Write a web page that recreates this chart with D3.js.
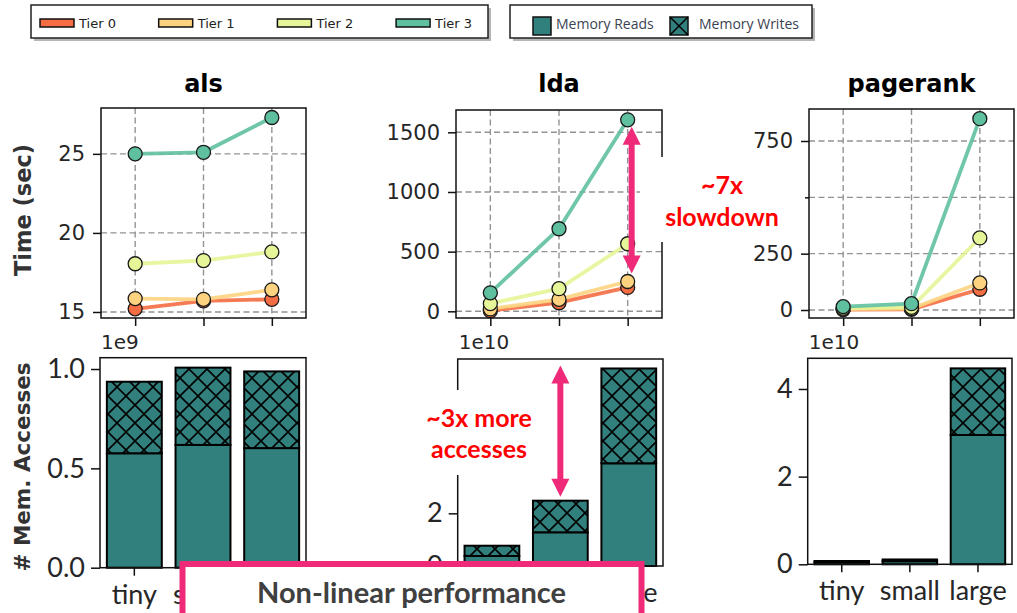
<!DOCTYPE html>
<html><head><meta charset="utf-8">
<script src="https://cdn.jsdelivr.net/npm/d3@7"></script>
<style>body{margin:0;background:#fff}</style>
</head><body>
<svg id="c" width="1017" height="613"></svg>
<script>
// ---------- data ----------
const sizes = ["tiny", "small", "large"];
const tiers = ["Tier 0", "Tier 1", "Tier 2", "Tier 3"];
const tierColors = ["#f46d43", "#fdd380", "#e6f598", "#5fc0a0"];
const barColor = "#31807d";

// time (sec), rows = tiers, cols = sizes
const alsTime = [[15.2, 15.7, 15.8], [15.85, 15.8, 16.4], [18.05, 18.25, 18.8], [25.0, 25.1, 27.3]];
const ldaTime = [[5, 72, 200], [20, 100, 250], [65, 190, 566], [155, 692, 1605]];
const pagerankTime = [[2, 3, 92], [4, 6, 120], [8, 12, 320], [15, 28, 849]];

// memory accesses (in units of the offset)
const alsReads = [0.576, 0.618, 0.602];
const alsWrites = [0.360, 0.389, 0.386];
const ldaReads = [0.38, 1.28, 3.90];
const ldaWrites = [0.39, 1.20, 3.60];
const pagerankReads = [0.05, 0.07, 2.95];
const pagerankWrites = [0.025, 0.04, 1.52];

const alsTimeTicks = [15, 20, 25];
const ldaTimeTicks = [0, 500, 1000, 1500];
const pagerankTimeTicks = [0, 250, 500, 750];
const alsMemTicks = [0, 0.5, 1.0];
const ldaMemTicks = [0, 2, 4, 6];
const pagerankMemTicks = [0, 2, 4];
const memLegend = ["Memory Reads", "Memory Writes"];

// ---------- setup ----------
const svg = d3.select("#c");
const defs = svg.append("defs");
const pat = defs.append("pattern").attr("id", "hatch")
  .attr("patternUnits", "userSpaceOnUse").attr("width", 18).attr("height", 18);
pat.append("rect").attr("width", 18).attr("height", 18).attr("fill", barColor);
pat.append("path").attr("d", "M0,0L18,18M18,0L0,18M-2,16L2,20M16,-2L20,2M-2,2L2,-2M16,20L20,16")
  .attr("stroke", "#000").attr("stroke-width", 1.6);

const DV = "DejaVu Sans";
const HUM = "Lato";

function styleAxis(a, font, size) {
  a.select(".domain").remove();
  a.selectAll("line").attr("stroke", "#111").attr("stroke-width", 1.5);
  a.selectAll("text").attr("font-family", font).attr("font-size", size).attr("fill", "#262626");
}

function drawTop(p) {
  const g = svg.append("g");
  const x = d3.scaleLinear().domain([-0.5, 2.5]).range([p.x0, p.x1]);
  const y = d3.scaleLinear().domain(p.yd).range([p.yb, p.yt]);
  const grid = sel => sel.attr("stroke", "#939393").attr("stroke-width", 1.4).attr("stroke-dasharray", "6,3.5");
  g.selectAll(".vg").data(sizes).join("line").attr("class", "vg")
    .attr("x1", (d, i) => x(i)).attr("x2", (d, i) => x(i)).attr("y1", p.yt).attr("y2", p.yb).call(grid);
  g.selectAll(".hg").data(p.ticks).join("line").attr("class", "hg")
    .attr("x1", p.x0).attr("x2", p.x1).attr("y1", d => y(d)).attr("y2", d => y(d)).call(grid);
  const ay = g.append("g").attr("transform", `translate(${p.x0},0)`)
    .call(d3.axisLeft(y).tickValues(p.ticks).tickSize(8).tickPadding(8).tickFormat(d3.format("d")));
  styleAxis(ay, DV, 21);
  const ax = g.append("g").attr("transform", `translate(0,${p.yb})`)
    .call(d3.axisBottom(x).tickValues([0, 1, 2]).tickSize(8).tickFormat(""));
  styleAxis(ax, DV, 21);
  const line = d3.line().x((d, i) => x(i)).y(d => y(d));
  p.data.forEach((vals, t) => {
    g.append("path").datum(vals).attr("d", line).attr("fill", "none")
      .attr("stroke", tierColors[t]).attr("stroke-width", 3.8).attr("opacity", 0.9);
    g.selectAll(".m" + t).data(vals).join("circle").attr("class", "m" + t)
      .attr("cx", (d, i) => x(i)).attr("cy", d => y(d)).attr("r", 7)
      .attr("fill", tierColors[t]).attr("stroke", "#1a1a1a").attr("stroke-width", 1.3);
  });
  g.append("rect").attr("x", p.x0).attr("y", p.yt).attr("width", p.x1 - p.x0).attr("height", p.yb - p.yt)
    .attr("fill", "none").attr("stroke", "#111").attr("stroke-width", 1.5);
  g.append("text").attr("x", (p.x0 + p.x1) / 2).attr("y", 92).attr("text-anchor", "middle")
    .attr("font-family", DV).attr("font-weight", "bold").attr("font-size", 24).attr("fill", "#000").text(p.title);
  return { x, y };
}

function drawBottom(p) {
  const g = svg.append("g");
  const x = d3.scaleBand().domain(sizes).range([p.x0, p.x1]).paddingInner(0.2).paddingOuter(0.1);
  const y = d3.scaleLinear().domain(p.yd).range([p.yb, p.yt]);
  g.selectAll(".rd").data(p.reads).join("rect").attr("class", "rd")
    .attr("x", (d, i) => x(sizes[i])).attr("width", x.bandwidth())
    .attr("y", d => y(d)).attr("height", d => p.yb - y(d))
    .attr("fill", barColor).attr("stroke", "#000").attr("stroke-width", 2);
  g.selectAll(".wr").data(p.writes).join("rect").attr("class", "wr")
    .attr("x", (d, i) => x(sizes[i])).attr("width", x.bandwidth())
    .attr("y", (d, i) => y(p.reads[i] + d)).attr("height", (d, i) => y(p.reads[i]) - y(p.reads[i] + d))
    .attr("fill", "url(#hatch)").attr("stroke", "#000").attr("stroke-width", 2);
  const ay = g.append("g").attr("transform", `translate(${p.x0},0)`)
    .call(d3.axisLeft(y).tickValues(p.ticks).tickSize(9).tickPadding(6).tickFormat(d3.format(p.fmt)));
  styleAxis(ay, HUM, 27);
  const ax = g.append("g").attr("transform", `translate(0,${p.yb})`)
    .call(d3.axisBottom(x).tickSize(8).tickPadding(9));
  styleAxis(ax, HUM, 27);
  g.append("rect").attr("x", p.x0).attr("y", p.yt).attr("width", p.x1 - p.x0).attr("height", p.yb - p.yt)
    .attr("fill", "none").attr("stroke", "#111").attr("stroke-width", 1.5);
  g.append("text").attr("x", p.x0 + 1).attr("y", 349).attr("font-family", DV).attr("font-size", 20)
    .attr("fill", "#262626").text(p.offset);
  return { x, y };
}

// ---------- panels ----------
drawTop({ title: "als", x0: 101, x1: 306, yt: 108, yb: 318, yd: [14.62, 27.9], ticks: alsTimeTicks, data: alsTime });
const lda = drawTop({ title: "lda", x0: 456, x1: 662, yt: 110, yb: 318, yd: [-56, 1687], ticks: ldaTimeTicks, data: ldaTime });
drawTop({ title: "pagerank", x0: 809, x1: 1014, yt: 109, yb: 318, yd: [-35.5, 892], ticks: pagerankTimeTicks, data: pagerankTime });

drawBottom({ x0: 100, x1: 306, yt: 357.7, yb: 567.7, yd: [0, 1.057], ticks: alsMemTicks, fmt: ".1f", reads: alsReads, writes: alsWrites, offset: "1e9" });
const ldaB = drawBottom({ x0: 457.7, x1: 663, yt: 359, yb: 566, yd: [0, 7.86], ticks: ldaMemTicks, fmt: "d", reads: ldaReads, writes: ldaWrites, offset: "1e10" });
drawBottom({ x0: 807.7, x1: 1012, yt: 358.3, yb: 564.3, yd: [0, 4.70], ticks: pagerankMemTicks, fmt: "d", reads: pagerankReads, writes: pagerankWrites, offset: "1e10" });

// ---------- y labels ----------
svg.append("text").attr("transform", "translate(31,210) rotate(-90)").attr("text-anchor", "middle")
  .attr("font-family", DV).attr("font-weight", "bold").attr("font-size", 22.5).attr("fill", "#333").text("Time (sec)");
svg.append("text").attr("transform", "translate(30,467) rotate(-90)").attr("text-anchor", "middle")
  .attr("font-family", DV).attr("font-weight", "bold").attr("font-size", 21.5).attr("fill", "#333").text("# Mem. Accesses");

// ---------- legends ----------
const leg1 = svg.append("g");
leg1.append("rect").attr("x", 34).attr("y", 8).attr("width", 457).attr("height", 33).attr("fill", "#b5b5b5");
leg1.append("rect").attr("x", 31).attr("y", 5).attr("width", 457).attr("height", 33).attr("fill", "#fff").attr("stroke", "#222").attr("stroke-width", 1.5);
tiers.forEach((t, i) => {
  const lx = 40 + i * 118.7;
  leg1.append("rect").attr("x", lx).attr("y", 19).attr("width", 34).attr("height", 8)
    .attr("fill", tierColors[i]).attr("stroke", "#111").attr("stroke-width", 1.5);
  leg1.append("text").attr("x", lx + 39).attr("y", 27.5).attr("font-family", DV).attr("font-size", 13)
    .attr("fill", "#222").text(t);
});
const leg2 = svg.append("g");
leg2.append("rect").attr("x", 513).attr("y", 8).attr("width", 302).attr("height", 33).attr("fill", "#b5b5b5");
leg2.append("rect").attr("x", 510).attr("y", 5).attr("width", 302).attr("height", 33).attr("fill", "#fff").attr("stroke", "#222").attr("stroke-width", 1.5);
memLegend.forEach((t, i) => {
  const lx = i === 0 ? 533 : 670;
  leg2.append("rect").attr("x", lx).attr("y", 17).attr("width", 18).attr("height", 18)
    .attr("fill", barColor).attr("stroke", "#111").attr("stroke-width", 1.5);
  if (i === 1) leg2.append("path").attr("d", `M${lx},17L${lx + 18},35M${lx + 18},17L${lx},35`).attr("stroke", "#000").attr("stroke-width", 1.5);
  leg2.append("text").attr("x", lx + (i === 0 ? 23 : 29)).attr("y", 28.5).attr("font-family", "Open Sans").attr("font-size", 14)
    .attr("fill", "#3a4352").text(t);
});

// ---------- annotations ----------
const pink = "#ef2a79";
function dArrow(x, y1, y2) {
  const g = svg.append("g");
  g.append("line").attr("x1", x).attr("x2", x).attr("y1", y1 + 14).attr("y2", y2 - 14).attr("stroke", pink).attr("stroke-width", 6);
  g.append("path").attr("d", `M${x},${y1}L${x - 9},${y1 + 18}L${x + 9},${y1 + 18}Z`).attr("fill", pink);
  g.append("path").attr("d", `M${x},${y2}L${x - 9},${y2 - 18}L${x + 9},${y2 - 18}Z`).attr("fill", pink);
}
function redText(x, y, t) {
  svg.append("text").attr("x", x).attr("y", y).attr("font-family", HUM).attr("font-weight", "bold")
    .attr("font-size", 25).attr("fill", "#ff0000").attr("text-anchor", "middle").text(t);
}
svg.append("rect").attr("x", 640).attr("y", 157).attr("width", 165).attr("height", 85).attr("fill", "#fff");
dArrow(lda.x(2) + 4, lda.y(ldaTime[3][2]) + 7, lda.y(ldaTime[1][2]) - 8);
redText(722, 194, "~7x");
redText(722, 226, "slowdown");

svg.append("rect").attr("x", 418).attr("y", 390).attr("width", 122).attr("height", 85).attr("fill", "#fff");
dArrow(ldaB.x("small") + ldaB.x.bandwidth() / 2, ldaB.y(ldaReads[2] + ldaWrites[2]) - 3, ldaB.y(ldaReads[1] + ldaWrites[1]) - 4);
redText(479, 426.5, "~3x more");
redText(479, 457.5, "accesses");

svg.append("rect").attr("x", 182.5).attr("y", 564).attr("width", 459).attr("height", 90)
  .attr("fill", "#fff").attr("stroke", pink).attr("stroke-width", 6);
svg.append("text").attr("x", 411.5).attr("y", 603).attr("text-anchor", "middle")
  .attr("font-family", HUM).attr("font-weight", "bold").attr("font-size", 29).attr("fill", "#404040")
  .text("Non-linear performance");
</script>
</body></html>
